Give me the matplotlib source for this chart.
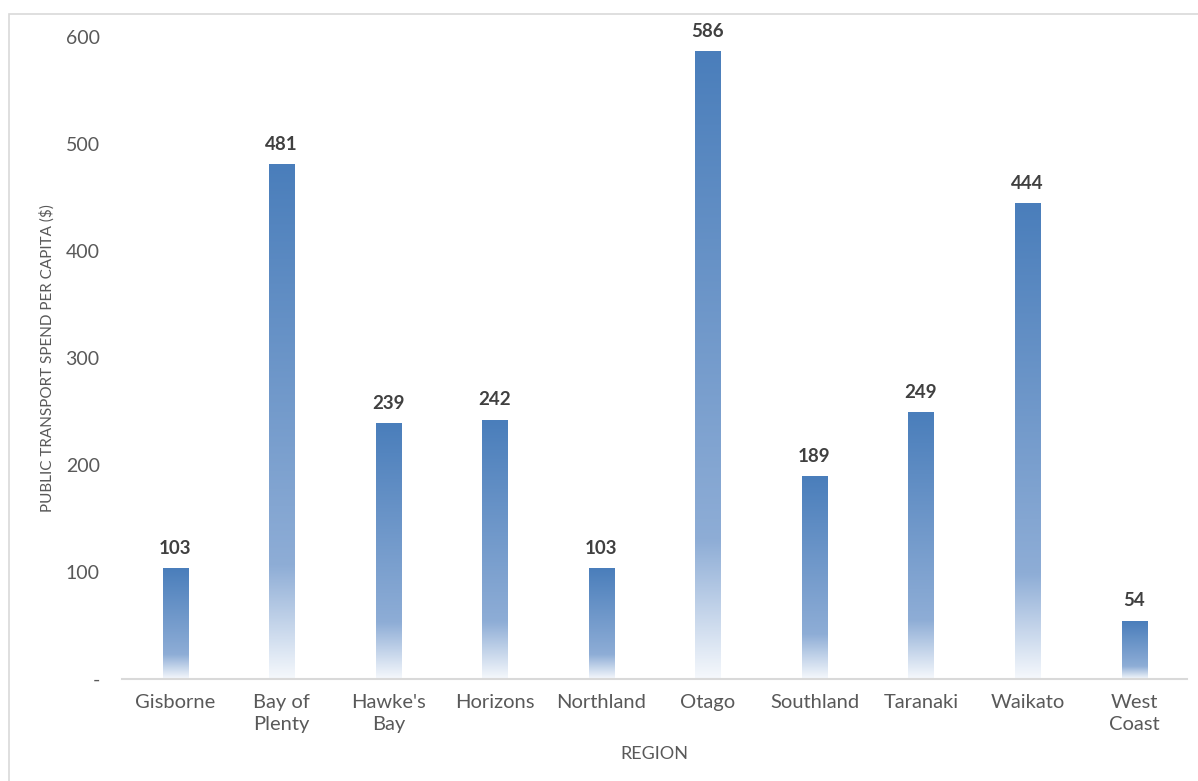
import numpy as np
import matplotlib.pyplot as plt
from matplotlib.colors import LinearSegmentedColormap
from matplotlib.patches import Rectangle
from matplotlib.ticker import FuncFormatter

regions = ['Gisborne', 'Bay of\nPlenty', "Hawke's\nBay", 'Horizons', 'Northland',
           'Otago', 'Southland', 'Taranaki', 'Waikato', 'West\nCoast']
spend = [103, 481, 239, 242, 103, 586, 189, 249, 444, 54]

plt.rcParams['font.family'] = ['Lato', 'DejaVu Sans']

fig = plt.figure(figsize=(11.98, 7.81), dpi=100)
ax = fig.add_axes([0.1018, 0.1306, 0.8893, 0.822])

# outer chart border
fig.patches.append(Rectangle((0.0075, -0.05), 1.1, 1.032, transform=fig.transFigure,
                             fill=False, edgecolor='#d9d9d9', linewidth=1.2))

# top -> bottom gradient like the Excel fill
cmap = LinearSegmentedColormap.from_list(
    'fade', [(0.0, '#4a7ebb'), (0.78, '#8eadd6'), (1.0, '#f5f8fc')])
grad = np.linspace(0, 1, 256).reshape(-1, 1)

x = np.arange(len(regions))
bars = ax.bar(x, spend, width=0.235, color='none', edgecolor='none')
for b, v in zip(bars, spend):
    x0 = b.get_x()
    ax.imshow(grad, cmap=cmap, aspect='auto', interpolation='bilinear',
              extent=(x0, x0 + b.get_width(), 0, v), zorder=2)
    ax.text(b.get_x() + b.get_width() / 2, v + 11, str(v), ha='center', va='bottom',
            fontsize=13.5, fontweight='bold', color='#404040', clip_on=False)

ax.set_xlim(-0.5, len(regions) - 0.5)
ax.set_ylim(0, 600)
ax.set_yticks(range(0, 601, 100))
ax.yaxis.set_major_formatter(FuncFormatter(lambda v, p: '-' if v == 0 else f'{v:.0f}'))
ax.set_xticks(x)
ax.set_xticklabels(regions, linespacing=1.35)

for s in ['top', 'right', 'left']:
    ax.spines[s].set_visible(False)
ax.spines['bottom'].set_color('#d9d9d9')
ax.spines['bottom'].set_linewidth(1.5)
ax.tick_params(axis='both', length=0, labelcolor='#595959')
ax.tick_params(axis='x', labelsize=14.5, pad=11)
ax.tick_params(axis='y', labelsize=14, pad=16)

ax.set_ylabel('PUBLIC TRANSPORT SPEND PER CAPITA ($)', fontsize=11, color='#595959',
              labelpad=8)
ax.set_xlabel('REGION', fontsize=13, color='#595959', labelpad=9)

fig.savefig('out.png', dpi=100)
